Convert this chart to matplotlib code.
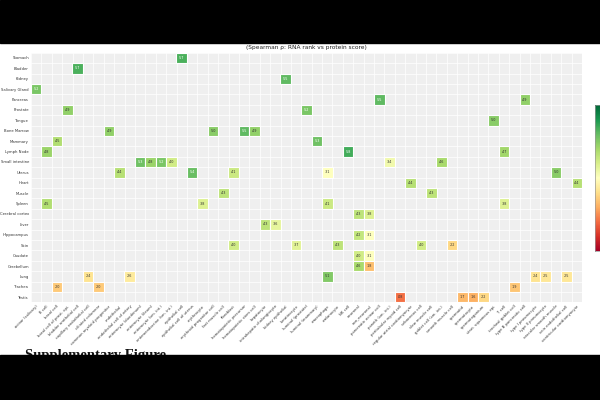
import numpy as np
import matplotlib
matplotlib.use("Agg")
import matplotlib.pyplot as plt
from matplotlib.patches import Rectangle

# tissues (rows, top to bottom)
tissues = ["Stomach", "Bladder", "Kidney", "Salivary Gland", "Pancreas", "Prostate",
           "Tongue", "Bone Marrow", "Mammary", "Lymph Node", "Small intestine", "Uterus",
           "Heart", "Muscle", "Spleen", "Cerebral cortex", "Liver", "Hippocampus", "Skin",
           "Caudate", "Cerebellum", "Lung", "Trachea", "Testis"]

# cell types (columns)
cell_types = ["acinar (salivary)", "B cell", "basal cell", "basal cell of prost. epi.",
              "bladder urothelial cell", "capillary endothelial cell", "ciliated columnar",
              "common myeloid progenitor", "endothelial", "endothelial cell of artery",
              "enterocyte (duodenum)", "enterocyte (ileum)", "enterocyte (sm. int.)",
              "enteroendocrine (sm. int.)", "epithelial cell", "epithelial cell of uterus",
              "erythrocyte", "erythroid progenitor cell", "fast muscle cell", "fibroblast",
              "hematopoietic precursor", "hematopoietic stem cell", "hepatocyte",
              "intrahepatic cholangiocyte", "kidney epithelial", "keratinocyte",
              "luminal (prostate)", "luminal (mammary)", "macrophage", "melanocyte",
              "NK cell", "neuronal", "non_neuronal", "pancreatic acinar cell",
              "paneth (sm. int.)", "peritubular myoid cell", "regular atrial cardiomyocyte",
              "sebaceous cell", "slow muscle cell", "goblet cell (sm. int.)",
              "smooth muscle cell", "spermatid", "spermatocyte", "spermatogonium",
              "strat. squamous epi.", "T cell", "tracheal goblet cell",
              "type B pancreatic cell", "type I pneumocyte", "type II pneumocyte",
              "vascular smooth muscle", "vein endothelial cell", "ventricular cardiomyocyte"]

# matched (tissue, cell type) pairs and their Spearman rho
hit_tissue = ["Stomach", "Bladder", "Kidney", "Salivary Gland",
              "Pancreas", "Pancreas",
              "Prostate", "Prostate", "Tongue",
              "Bone Marrow", "Bone Marrow", "Bone Marrow", "Bone Marrow",
              "Mammary", "Mammary",
              "Lymph Node", "Lymph Node", "Lymph Node",
              "Small intestine", "Small intestine", "Small intestine", "Small intestine",
              "Small intestine", "Small intestine",
              "Uterus", "Uterus", "Uterus", "Uterus", "Uterus",
              "Heart", "Heart", "Muscle", "Muscle",
              "Spleen", "Spleen", "Spleen", "Spleen",
              "Cerebral cortex", "Cerebral cortex", "Liver", "Liver",
              "Hippocampus", "Hippocampus",
              "Skin", "Skin", "Skin", "Skin", "Skin",
              "Caudate", "Caudate", "Cerebellum", "Cerebellum",
              "Lung", "Lung", "Lung", "Lung", "Lung", "Lung",
              "Trachea", "Trachea", "Trachea",
              "Testis", "Testis", "Testis", "Testis"]
hit_cell = [14, 4, 24, 0,
            33, 47,
            3, 26, 44,
            7, 17, 20, 21,
            2, 27,
            1, 30, 45,
            10, 11, 12, 13, 34, 39,
            8, 15, 19, 28, 50,
            36, 52, 18, 38,
            1, 16, 28, 45,
            31, 32, 22, 23,
            31, 32,
            19, 25, 29, 37, 40,
            31, 32, 31, 32,
            5, 9, 28, 48, 49, 51,
            2, 6, 46,
            35, 41, 42, 43]
hit_rho = [0.57, 0.57, 0.55, 0.52,
           0.55, 0.49,
           0.49, 0.52, 0.50,
           0.49, 0.50, 0.55, 0.49,
           0.45, 0.53,
           0.48, 0.58, 0.47,
           0.53, 0.48, 0.52, 0.40, 0.34, 0.46,
           0.44, 0.54, 0.41, 0.31, 0.50,
           0.44, 0.44, 0.43, 0.43,
           0.45, 0.38, 0.41, 0.38,
           0.43, 0.38, 0.43, 0.36,
           0.42, 0.31,
           0.40, 0.37, 0.43, 0.40, 0.22,
           0.40, 0.31, 0.46, 0.18,
           0.24, 0.26, 0.51, 0.24, 0.25, 0.25,
           0.20, 0.20, 0.19,
           0.08, 0.17, 0.16, 0.22]

nr, nc = len(tissues), len(cell_types)
rows = np.array([tissues.index(t) for t in hit_tissue])
cols = np.array(hit_cell)
rho = np.array(hit_rho)

fig = plt.figure(figsize=(6, 4), dpi=100)
ax = fig.add_axes([31 / 600, 1 - 302.4 / 400, 551 / 600, 249.6 / 400])
ax.set_facecolor("#efefef")

# thin white grid between all cells
ax.set_xticks(np.arange(nc + 1), minor=True)
ax.set_yticks(np.arange(nr + 1), minor=True)
ax.grid(which="minor", color="white", lw=0.5)
ax.tick_params(which="minor", length=0)
ax.set_axisbelow(True)

ax.set_xlim(0, nc)
ax.set_ylim(nr, 0)

cmap = plt.get_cmap("RdYlGn")
sq = ax.scatter(cols + 0.5, rows + 0.5, c=rho, cmap=cmap, vmin=-0.08, vmax=0.70,
                marker="s", s=58, edgecolors="white", linewidths=0.8, zorder=3)

for r, c, v in zip(rows, cols, rho):
    ax.text(c + 0.5, r + 0.5, ("%.2f" % v)[1:], ha="center", va="center",
            fontsize=2.4, color="white" if v >= 0.52 else "#333333", zorder=4)

ax.set_xticks(np.arange(nc) + 0.5)
ax.set_xticklabels(cell_types, rotation=45, ha="right", rotation_mode="anchor",
                   fontsize=2.7, color="#333333")
ax.set_yticks(np.arange(nr) + 0.5)
ax.set_yticklabels(tissues, fontsize=2.7, color="#333333")
ax.tick_params(which="major", length=0, pad=1.5)
for s in ax.spines.values():
    s.set_visible(False)
ax.set_title("(Spearman \u03c1: RNA rank vs protein score)", fontsize=4.2,
             color="#222222", pad=2.5)

# colour bar, mostly cut off at the right edge
cax = fig.add_axes([595 / 600, 1 - 251 / 400, 0.03, 146 / 400])
cb = fig.colorbar(sq, cax=cax)
cb.outline.set_edgecolor("#999999")
cb.outline.set_linewidth(0.5)
cb.set_ticks([])

fig.text(25 / 600, 1 - 349 / 400, "Supplementary Figure", family="Liberation Serif",
         fontsize=10.5, fontweight="bold", va="top", ha="left", color="#111111")

# black letterbox bands
fig.patches.append(Rectangle((0, 1 - 43 / 400), 1, 43 / 400, transform=fig.transFigure,
                             color="black", zorder=10))
fig.patches.append(Rectangle((0, 0), 1, 45 / 400, transform=fig.transFigure,
                             color="black", zorder=10))

fig.savefig("out.png", dpi=100, facecolor="white")
